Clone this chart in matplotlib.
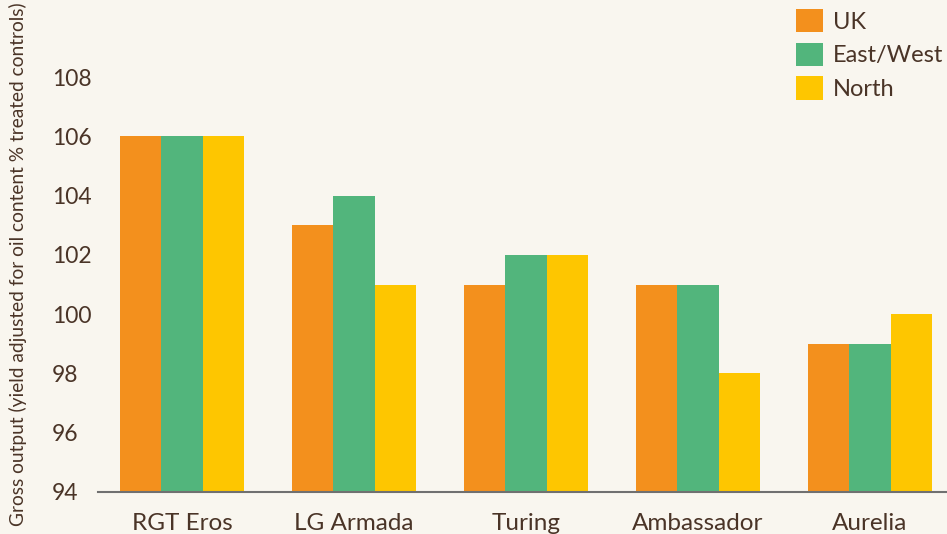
import matplotlib
matplotlib.use("Agg")
import matplotlib.pyplot as plt
import numpy as np
from matplotlib.patches import Patch

categories = ["RGT Eros", "LG Armada", "Turing", "Ambassador", "Aurelia"]
series_names = ["UK", "East/West", "North"]
uk = [106, 103, 101, 101, 99]
east_west = [106, 104, 102, 101, 99]
north = [106, 101, 102, 98, 100]
yticks = [94, 96, 98, 100, 102, 104, 106, 108]

colors = ["#F3901D", "#52B57C", "#FEC600"]
bg = "#F9F6EF"
txt = "#4A3427"

plt.rcParams['font.family'] = ['Lato', 'DejaVu Sans']

W, H = 947, 534
fig = plt.figure(figsize=(W / 100, H / 100), dpi=100, facecolor=bg)
ax = fig.add_axes([98 / W, (534 - 492) / H, 1 - 98 / W, 492 / H])
ax.set_facecolor(bg)

x = np.arange(len(categories))
bw = 0.24
base = 94
for i, (vals, c) in enumerate(zip([uk, east_west, north], colors)):
    v = np.array(vals)
    ax.bar(x + (i - 1) * bw, v - base, bottom=base, width=bw, color=c,
           label=series_names[i], linewidth=0)

ax.set_ylim(94, 110.6)
ax.set_xlim(-0.488, 4.448)
ax.set_yticks(yticks)
ax.set_yticklabels([str(t) for t in yticks])
ax.set_xticks(x)
ax.set_xticklabels(categories)
ax.tick_params(axis='y', length=0, pad=33, labelsize=16.5, labelcolor=txt)
for lab in ax.get_yticklabels():
    lab.set_horizontalalignment('left')
ax.tick_params(axis='x', length=0, pad=15, labelsize=17.5, labelcolor=txt)
for s in ['top', 'right', 'left']:
    ax.spines[s].set_visible(False)
ax.spines['bottom'].set_color('#707070')
ax.spines['bottom'].set_linewidth(1.5)

fig.text(18 / W, 0.505, "Gross output (yield adjusted for oil content % treated controls)",
         rotation=90, ha='center', va='center', fontsize=13.8, color=txt)

handles = [Patch(facecolor=c, edgecolor='none') for c in colors]
leg = fig.legend(handles, series_names, loc='upper left',
                 bbox_to_anchor=(796 / W, 1 - 9 / H), frameon=False,
                 fontsize=17, handlelength=1.15, handleheight=1.15,
                 labelspacing=0.42, handletextpad=0.42, borderpad=0, borderaxespad=0)
for t in leg.get_texts():
    t.set_color(txt)

fig.savefig("out.png", dpi=100, facecolor=bg)
